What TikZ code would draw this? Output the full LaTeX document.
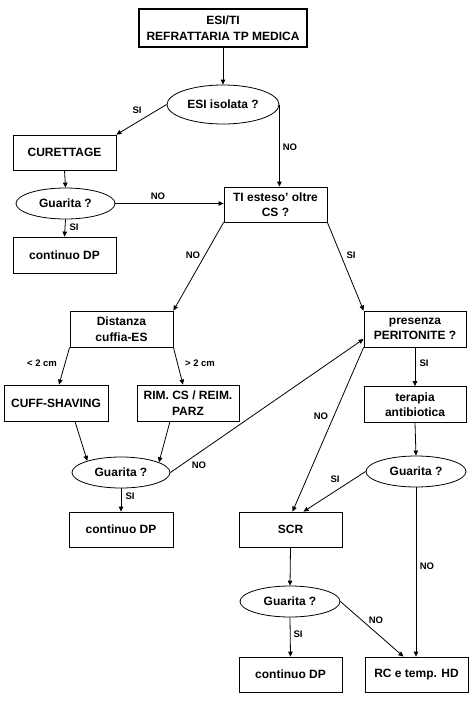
\documentclass[tikz,border=0pt]{standalone}
\usepackage{fontspec}
\setmainfont{Liberation Sans}
\usetikzlibrary{shapes.geometric,arrows.meta}
\tikzset{
  box/.style={draw, rectangle, line width=0.8pt, inner sep=0pt, align=center, font=\fontsize{12}{15.5}\selectfont\bfseries},
  oval/.style={draw, ellipse, line width=0.8pt, inner sep=0pt, align=center, font=\fontsize{12}{15.5}\selectfont\bfseries},
  arr/.style={line width=0.8pt, -{Triangle[length=5pt,width=4.5pt]}},
  lab/.style={font=\fontsize{9.5}{11}\selectfont\bfseries, inner sep=0pt}
}
\begin{document}
\begin{tikzpicture}[x=1pt,y=-1pt]
\useasboundingbox (0,0) rectangle (474,702);
\fill[white] (0,0) rectangle (474,702);
% nodes
\node[box, line width=1.8pt, minimum width=168pt, minimum height=38pt] (top) at (223,28) {ESI/TI\\REFRATTARIA TP MEDICA};
\node[oval, minimum width=112pt, minimum height=39pt] (esi) at (223,104.5) {ESI isolata ?};
\node[box, minimum width=103pt, minimum height=35pt] (cur) at (64.5,152.5) {CURETTAGE};
\node[oval, minimum width=99pt, minimum height=31pt] (g1) at (65.5,203.5) {Guarita ?};
\node[box, minimum width=103pt, minimum height=35pt] (ti) at (275.5,204.5) {TI esteso' oltre\\CS ?};
\node[box, minimum width=103pt, minimum height=36pt] (cdp1) at (64.5,255) {continuo DP};
\node[box, minimum width=103pt, minimum height=36pt] (dist) at (121.5,329) {Distanza\\cuffia-ES};
\node[box, minimum width=102pt, minimum height=36pt] (pres) at (415,329) {presenza\\PERITONITE ?};
\node[box, minimum width=104pt, minimum height=36pt] (cuff) at (56,403) {CUFF-SHAVING};
\node[box, minimum width=102pt, minimum height=36pt] (rim) at (188,403) {RIM. CS / REIM.\\PARZ};
\node[box, minimum width=102pt, minimum height=36pt] (ter) at (415,404.5) {terapia\\antibiotica};
\node[oval, minimum width=98pt, minimum height=31pt] (g2) at (121,472.5) {Guarita ?};
\node[oval, minimum width=100pt, minimum height=31pt] (g3) at (416,471.5) {Guarita ?};
\node[box, minimum width=104pt, minimum height=35pt] (cdp2) at (121,529.5) {continuo DP};
\node[box, minimum width=103pt, minimum height=35pt] (scr) at (290.5,529.5) {SCR};
\node[oval, minimum width=100pt, minimum height=31pt] (g4) at (290,601.5) {Guarita ?};
\node[box, minimum width=103pt, minimum height=35pt] (cdp3) at (290.5,674.5) {continuo DP};
\node[box, minimum width=103pt, minimum height=35pt] (rc) at (416.5,674.5) {RC e temp. HD};
% connectors
\draw[arr] (top.south) -- (esi.north);
\draw[arr] (esi.west) -- (cur.north east);
\draw[arr] (esi.east) -- (esi.east |- ti.north);
\draw[arr] (cur.south) -- (g1.north);
\draw[arr] (g1.east) -- (g1.east -| ti.west);
\draw[arr] (g1.south) -- (cdp1.north);
\draw[arr] (ti.south west) -- (dist.north east);
\draw[arr] (ti.south east) -- (pres.north west);
\draw[arr] (dist.south west) -- ([xshift=3pt]cuff.north);
\draw[arr] (dist.south east) -- ([xshift=-5pt]rim.north);
\draw[arr] ([xshift=19pt]cuff.south) -- (g2.161);
\draw[arr] ([xshift=-18pt]rim.south) -- (g2.15);
\draw[arr] (g2.east) -- ([yshift=-10pt]pres.west);
\draw[arr] (g2.south) -- (cdp2.north);
\draw[arr] (pres.south) -- (ter.north);
\draw[arr] (ter.south) -- (g3.north);
\draw[arr] (pres.south west) -- ([xshift=2pt]scr.north);
\draw[arr] (g3.west) -- ([xshift=13pt]scr.north);
\draw[arr] (g3.south) -- (g3.south |- rc.north);
\draw[arr] (scr.south) -- (g4.north);
\draw[arr] (g4.south) -- (cdp3.north);
\draw[arr] (g4.east) -- ([xshift=-13pt]rc.north);
% labels
\node[lab] (l1) at (137,110) {SI};
\node[lab] (l2) at (290,147) {NO};
\node[lab] (l3) at (158,196) {NO};
\node[lab] (l4) at (74,227) {SI};
\node[lab] (l5) at (193,255) {NO};
\node[lab] (l6) at (351,255) {SI};
\node[lab] (l7) at (42,363) {< 2 cm};
\node[lab] (l8) at (200,363) {> 2 cm};
\node[lab] (l9) at (424,363) {SI};
\node[lab] (l10) at (199,465) {NO};
\node[lab] (l11) at (321,416) {NO};
\node[lab] (l12) at (335,479) {SI};
\node[lab] (l13) at (130,496) {SI};
\node[lab] (l14) at (427,566) {NO};
\node[lab] (l15) at (298,634) {SI};
\node[lab] (l16) at (376,620) {NO};
\end{tikzpicture}
\end{document}
